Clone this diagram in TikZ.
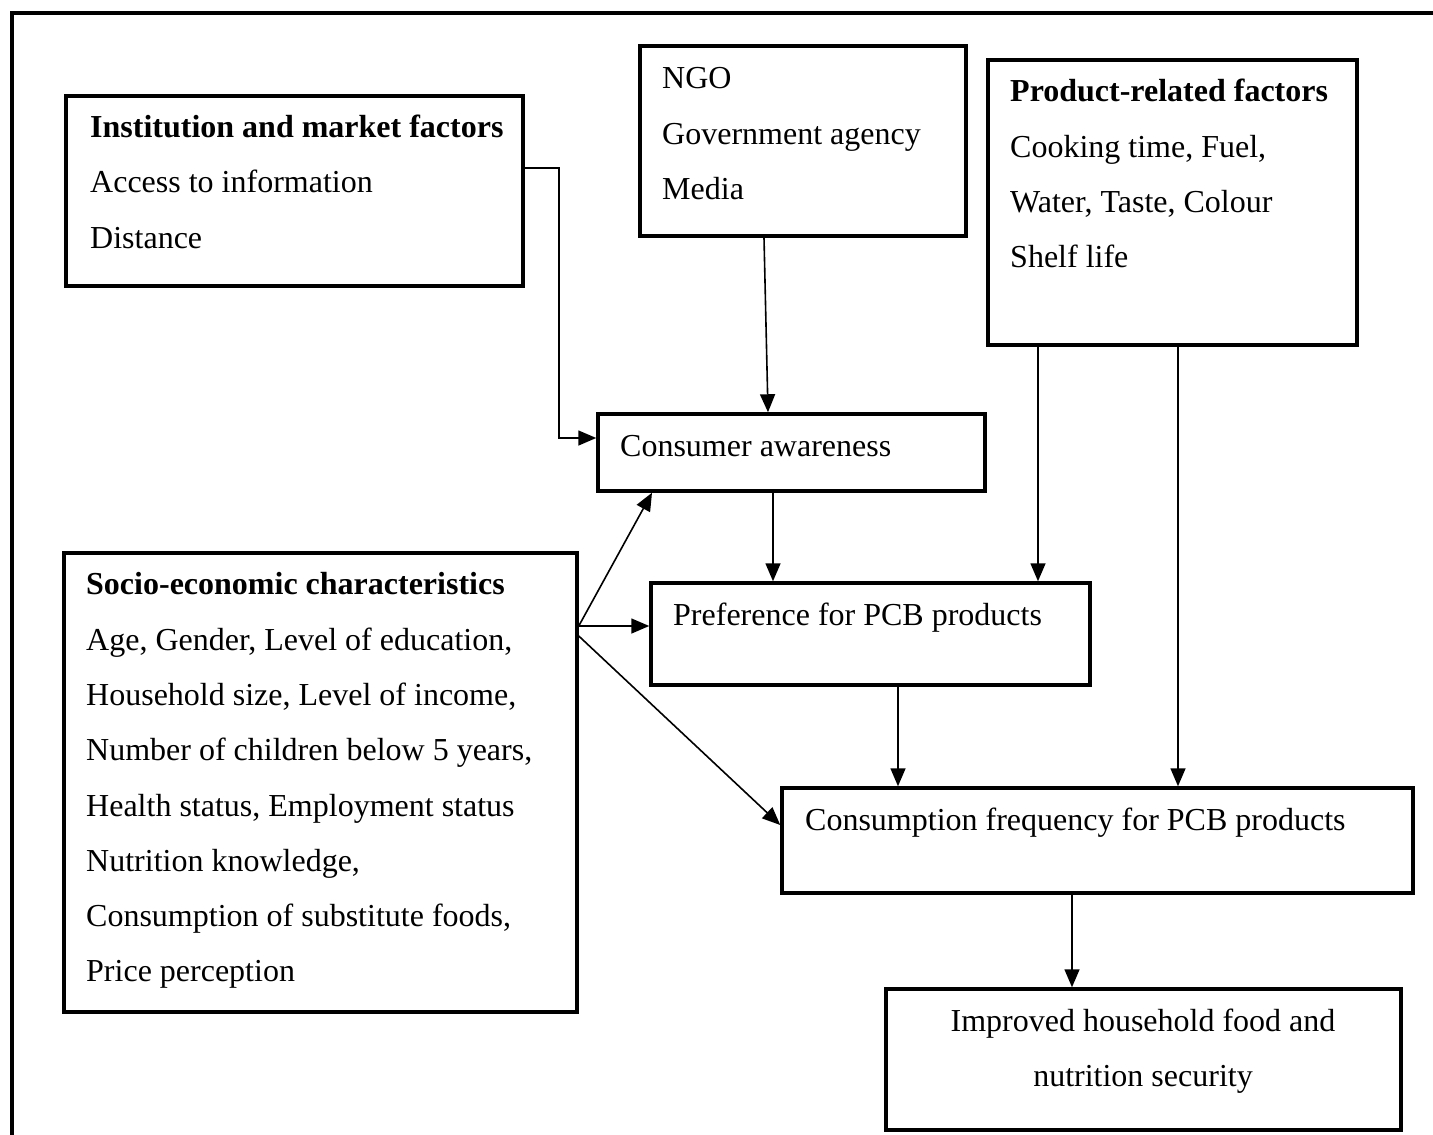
\documentclass[tikz,border=0pt]{standalone}
\usepackage{fontspec}
\setmainfont{Liberation Serif}
\usetikzlibrary{arrows.meta}
\tikzset{
  box/.style={draw, line width=3.5pt, rectangle, inner sep=0pt},
  txt/.style={inner sep=0pt, anchor=base west, font=\fontsize{32}{40}\selectfont},
  ctxt/.style={inner sep=0pt, anchor=base, font=\fontsize{32}{40}\selectfont},
  tip/.tip={Triangle[length=18pt 0 0,width=15pt 0 0]},
  arr/.style={line width=1.6pt, -tip}
}
\begin{document}
\begin{tikzpicture}[x=1pt,y=-1pt]
\useasboundingbox (0,0) rectangle (1433,1135);
% outer frame
\draw[line width=4.5pt] (12,1135) -- (12,13) -- (1433,13);

% boxes
\node[box, minimum width=457pt, minimum height=190pt] (inst) at (294.5,191) {};
\node[box, minimum width=326pt, minimum height=190pt] (ngo) at (803,141) {};
\node[box, minimum width=369pt, minimum height=285pt] (prod) at (1172.5,202.5) {};
\node[box, minimum width=387pt, minimum height=77pt] (aware) at (791.5,452.5) {};
\node[box, minimum width=439pt, minimum height=102pt] (pref) at (870.5,634) {};
\node[box, minimum width=513pt, minimum height=459pt] (socio) at (320.5,782.5) {};
\node[box, minimum width=631pt, minimum height=105pt] (cons) at (1097.5,840.5) {};
\node[box, minimum width=515pt, minimum height=141pt] (impr) at (1143.5,1059.5) {};

% texts
\node[txt] (i1) at (90,137) {\textbf{Institution and market factors}};
\node[txt] (i2) at (90,192) {Access to information};
\node[txt] (i3) at (90,248) {Distance};

\node[txt] (n1) at (662,88) {NGO};
\node[txt] (n2) at (662,144) {Government agency};
\node[txt] (n3) at (662,199) {Media};

\node[txt] (p1) at (1010,101) {\textbf{Product-related factors}};
\node[txt] (p2) at (1010,157) {Cooking time, Fuel,};
\node[txt] (p3) at (1010,212) {Water, Taste, Colour};
\node[txt] (p4) at (1010,267) {Shelf life};

\node[txt] (a1) at (620,456) {Consumer awareness};
\node[txt] (r1) at (673,625) {Preference for PCB products};

\node[txt] (s1t) at (86,594) {\textbf{Socio-economic characteristics}};
\node[txt] (s2t) at (86,650) {Age, Gender, Level of education,};
\node[txt] (s3t) at (86,705) {Household size, Level of income,};
\node[txt] (s4t) at (86,760) {Number of children below 5 years,};
\node[txt] (s5t) at (86,816) {Health status, Employment status};
\node[txt] (s6t) at (86,871) {Nutrition knowledge,};
\node[txt] (s7t) at (86,926) {Consumption of substitute foods,};
\node[txt] (s8t) at (86,981) {Price perception};

\node[txt] (c1) at (805,830) {Consumption frequency for PCB products};

\node[ctxt] (m1) at (1143,1031) {Improved household food and};
\node[ctxt] (m2) at (1143,1086) {nutrition security};

% connectors
\draw[arr] ([yshift=23pt]inst.east) -- ++(34,0) |- ([yshift=14.5pt]aware.west);
\draw[arr] ([xshift=-39pt]ngo.south) -- ([xshift=-23.5pt]aware.north);
\draw[arr] ([xshift=-18.5pt]aware.south) -- ([xshift=-18.5pt]aware.south |- pref.north);
\draw[arr] ([xshift=-134.5pt]prod.south) -- ([xshift=-134.5pt]prod.south |- pref.north);
\draw[arr] ([xshift=5.5pt]prod.south) -- ([xshift=5.5pt]prod.south |- cons.north);
\draw[arr] ([xshift=27.5pt]pref.south) -- ([xshift=27.5pt]pref.south |- cons.north);
\draw[arr] ([xshift=-25.5pt]cons.south) -- ([xshift=-25.5pt]cons.south |- impr.north);

\coordinate (so) at ([yshift=156.5pt]socio.east);
\draw[arr] (so) -- ([xshift=-139.5pt]aware.south);
\draw[arr] (so) -- (so -| pref.west);
\draw[arr] ([yshift=146.5pt]socio.east) -- ([yshift=15.5pt]cons.west);
\end{tikzpicture}
\end{document}
